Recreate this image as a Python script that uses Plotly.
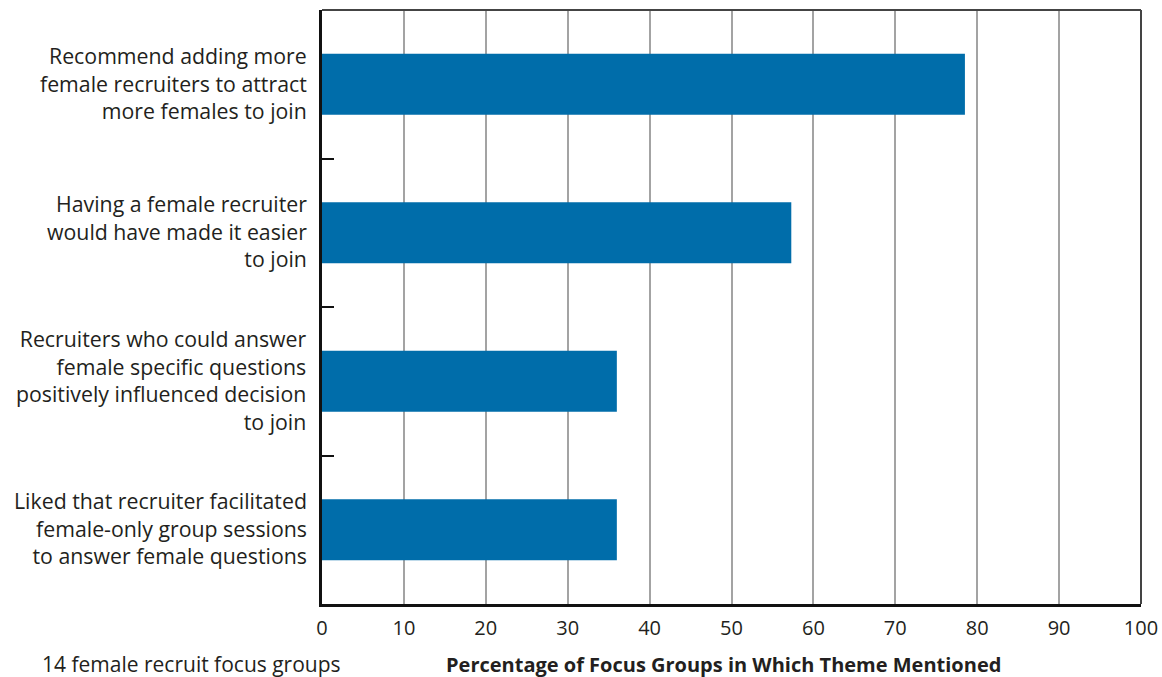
import plotly.graph_objects as go

categories = [
    "Recommend adding more<br>female recruiters to attract<br>more females to join",
    "Having a female recruiter<br>would have made it easier<br>to join",
    "Recruiters who could answer<br>female specific questions<br>positively influenced decision<br>to join",
    "Liked that recruiter facilitated<br>female-only group sessions<br>to answer female questions",
]
values = [78.5, 57.3, 36.0, 36.0]
x_ticks = [0, 10, 20, 30, 40, 50, 60, 70, 80, 90, 100]
x_title = "Percentage of Focus Groups in Which Theme Mentioned"
note = "14 female recruit focus groups"

FONT = "Open Sans"
TXT = "#231F20"
W, H = 1162, 677
L, R, T, B = 322, 21, 10, 73
PW = W - L - R
PH = H - T - B

fig = go.Figure(go.Bar(
    x=values, y=categories, orientation="h",
    marker=dict(color="#006DAA", line=dict(width=0)),
    width=0.41,
))

fig.update_layout(
    width=W, height=H, autosize=False,
    margin=dict(l=L, r=R, t=T, b=B, autoexpand=False),
    plot_bgcolor="white", paper_bgcolor="white",
    font=dict(family=FONT, size=18, color=TXT),
    showlegend=False,
)
fig.update_xaxes(
    range=[0, 100], tickvals=x_ticks, ticktext=[str(v) for v in x_ticks],
    showgrid=True, gridcolor="#A3A3A3", gridwidth=1.5,
    showline=True, linecolor="#111", linewidth=3,
    ticks="", ticklabelstandoff=4, automargin=False,
    tickfont=dict(size=20, color=TXT), zeroline=False,
)
fig.update_yaxes(
    categoryorder="array", categoryarray=categories[::-1],
    autorange=False, range=[-0.5, 3.5], automargin=False,
    showline=True, linecolor="#111", linewidth=3,
    ticks="inside", tickson="boundaries", ticklen=12, tickwidth=1.5, tickcolor="#111",
    showticklabels=False, showgrid=False,
)
# top and right border
fig.add_shape(type="line", xref="paper", yref="paper", x0=0, x1=1, y0=1, y1=1,
              line=dict(color="#444", width=2))
fig.add_shape(type="line", xref="paper", yref="paper", x0=1, x1=1, y0=0, y1=1,
              line=dict(color="#444", width=2))

# category labels (one multi-line text each)
for cat in categories:
    fig.add_annotation(text=cat, xref="paper", yref="y", x=0, y=cat,
                       xanchor="right", yanchor="middle", align="right", xshift=-13,
                       yshift=1.5, showarrow=False,
                       font=dict(size=21.3, color=TXT, family=FONT))

fig.add_annotation(text="<b>" + x_title + "</b>", xref="paper", yref="paper",
                   x=(723 - L) / PW, y=-60 / PH, yanchor="middle", xanchor="center",
                   showarrow=False, font=dict(size=20, color=TXT))
fig.add_annotation(text=note, xref="paper", yref="paper",
                   x=(40 - L) / PW, y=-60 / PH, xanchor="left", yanchor="middle",
                   showarrow=False, font=dict(size=21, color=TXT))

fig.write_html(
    "out.html",
    config={"displayModeBar": False},
    post_script="document.body.style.margin='0';document.body.style.overflow='hidden';",
)
